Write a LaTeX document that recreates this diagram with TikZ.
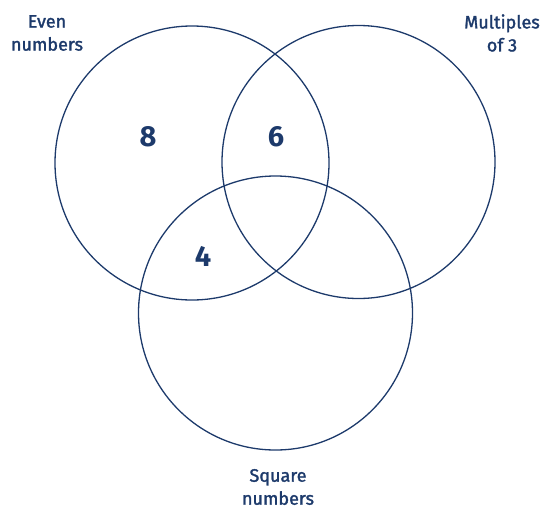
\documentclass[tikz,border=0pt]{standalone}
\usepackage{fontspec}
\setmainfont{Fira Sans}
\newfontfamily\labelfont{Fira Sans}[FakeBold=1.6]
\definecolor{navy}{HTML}{1D3A6B}
\begin{document}
\begin{tikzpicture}[x=1pt,y=-1pt,
  ring/.style={draw=navy,line width=1.3pt},
  setlabel/.style={text=navy,font=\labelfont\fontsize{18}{23}\selectfont,align=center,inner sep=0pt},
  count/.style={text=navy,font=\fontsize{29}{32}\selectfont\bfseries,inner sep=0pt}]
\useasboundingbox (0,0) rectangle (548,509);
\node[ring,circle,minimum size=274pt,inner sep=0pt] (even) at (192,163) {};
\node[ring,circle,minimum size=273pt,inner sep=0pt] (mult) at (358.5,162) {};
\node[ring,circle,minimum size=274pt,inner sep=0pt] (sq) at (275.5,313) {};
\node[setlabel] (evenlab) at (47,33) {Even\\numbers};
\node[setlabel] (multlab) at (502,33) {Multiples\\of 3};
\node[setlabel] (sqlab) at (278,487) {Square\\numbers};
\node[count] (n8) at (148,137) {8};
\node[count] (n6) at (276,137) {6};
\node[count] (n4) at (203,256) {4};
\end{tikzpicture}
\end{document}
